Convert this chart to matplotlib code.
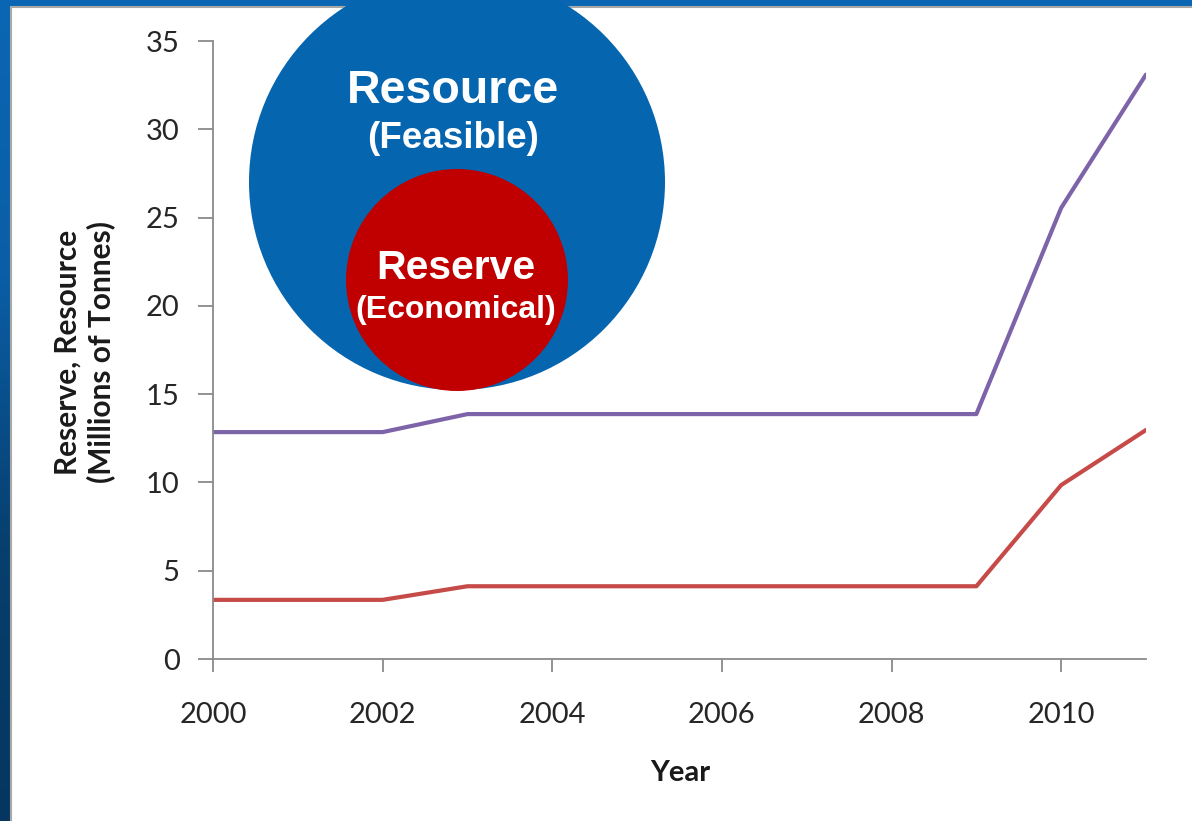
import matplotlib
matplotlib.use("Agg")
import matplotlib.pyplot as plt
import numpy as np
from matplotlib.patches import Circle, Rectangle
from matplotlib.colors import LinearSegmentedColormap

years = [2000, 2001, 2002, 2003, 2004, 2005, 2006, 2007, 2008, 2009, 2010, 2011]
resource = [12.85, 12.85, 12.85, 13.87, 13.87, 13.87, 13.87, 13.87, 13.87, 13.87, 25.55, 33.1]
reserve = [3.35, 3.35, 3.35, 4.12, 4.12, 4.12, 4.12, 4.12, 4.12, 4.12, 9.85, 12.97]
x_ticks = [2000, 2002, 2004, 2006, 2008, 2010]
y_ticks = [0, 5, 10, 15, 20, 25, 30, 35]

W, H = 1192, 821
fig = plt.figure(figsize=(W / 100, H / 100), dpi=100)
fig.patch.set_facecolor("#0A66B3")

# background frame
bg = fig.add_axes([0, 0, 1, 1], zorder=0)
bg.set_xlim(0, W)
bg.set_ylim(H, 0)
bg.axis("off")
grad = np.linspace(0, 1, 200).reshape(-1, 1)
cm = LinearSegmentedColormap.from_list("g", ["#0A66B3", "#0A5EA6", "#073F6E", "#05365F"])
bg.imshow(grad, cmap=cm, extent=[0, 11, H, 0], aspect="auto")
bg.add_patch(Rectangle((10.5, 7), W, H, facecolor="white", edgecolor="#A8A8A8", lw=1.5))

FONT = "Lato"
ax = fig.add_axes([213 / W, 1 - 659 / H, (1146 - 213) / W, (659 - 41) / H], zorder=1)
ax.patch.set_alpha(0)
ax.plot(years, resource, color="#7D64A8", lw=3.0, solid_capstyle="round")
ax.plot(years, reserve, color="#C64A48", lw=3.0, solid_capstyle="round")
ax.set_xlim(2000, 2011)
ax.set_ylim(0, 35)
for s in ["top", "right"]:
    ax.spines[s].set_visible(False)
for s in ["left", "bottom"]:
    ax.spines[s].set_color("#8A8A8A")
    ax.spines[s].set_linewidth(1.3)
ax.set_xticks(x_ticks)
ax.set_yticks(y_ticks)
ax.set_xticklabels([str(v) for v in x_ticks], family=FONT, fontsize=21, color="#262626")
ax.set_yticklabels([str(v) for v in y_ticks], family=FONT, fontsize=21, color="#262626")
ax.tick_params(axis="y", length=11, width=1.3, color="#8A8A8A", pad=13)
ax.tick_params(axis="x", length=9, width=1.3, color="#8A8A8A", pad=22)

fig.text(84 / W, 1 - 352 / H, "Reserve, Resource\n(Millions of Tonnes)", rotation=90,
         ha="center", va="center", family=FONT, fontweight="bold", fontsize=21.5,
         color="#1a1a1a", linespacing=1.2)
fig.text(680 / W, 1 - 773 / H, "Year", ha="center", va="center", family=FONT,
         fontweight="bold", fontsize=21, color="#1a1a1a")

# overlay circles
ov = fig.add_axes([0, 0, 1, 1], zorder=2)
ov.set_xlim(0, W)
ov.set_ylim(H, 0)
ov.axis("off")
ov.patch.set_alpha(0)
ov.add_patch(Circle((457, 182), 208, facecolor="#0565AF", edgecolor="none"))
ov.add_patch(Circle((457, 280), 111, facecolor="#C00000", edgecolor="none"))
TF = "Liberation Sans"
ov.text(453, 91, "Resource", ha="center", va="center", family=TF, fontweight="bold",
        fontsize=33.5, color="white")
ov.text(453, 139, "(Feasible)", ha="center", va="center", family=TF, fontweight="bold",
        fontsize=26.5, color="white")
ov.text(456, 268, "Reserve", ha="center", va="center", family=TF, fontweight="bold",
        fontsize=29.5, color="white")
ov.text(456, 310, "(Economical)", ha="center", va="center", family=TF, fontweight="bold",
        fontsize=23, color="white")

fig.savefig("out.png", dpi=100, facecolor=fig.get_facecolor())
